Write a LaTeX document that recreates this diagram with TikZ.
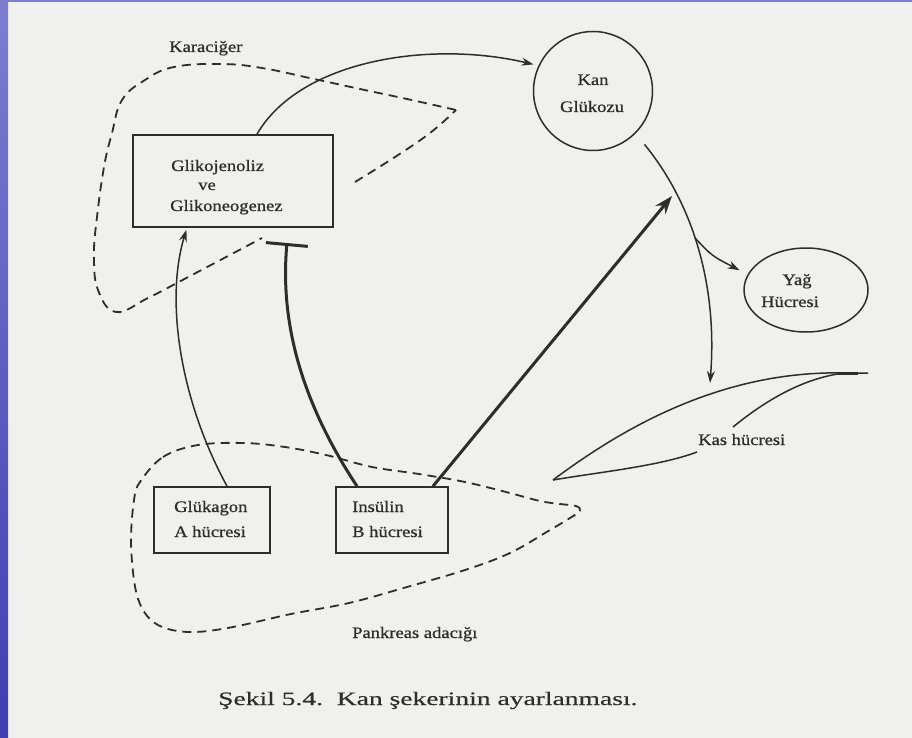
\documentclass[tikz,border=0pt]{standalone}
\usepackage{fontspec}
\setmainfont{Liberation Serif}
\newfontfamily\labfont[FakeStretch=1.16,FakeBold=0.8]{Liberation Serif}
\newfontfamily\capfont[FakeStretch=1.45,FakeBold=0.4]{Liberation Serif}
\usetikzlibrary{arrows.meta,shapes.geometric,calc}
\definecolor{page}{RGB}{240,240,238}
\definecolor{ink}{RGB}{45,45,45}
\definecolor{edgetop}{RGB}{125,125,208}
\definecolor{edgebot}{RGB}{62,62,178}
\begin{document}
\begin{tikzpicture}[x=1pt,y=-1pt,
  lbl/.style={font=\labfont\fontsize{16}{18}\selectfont, text=ink, inner sep=0pt},
  capt/.style={font=\capfont\fontsize{19}{21}\selectfont, text=ink, inner sep=0pt},
  box/.style={draw=ink, line width=1.7pt, rectangle, inner sep=0pt},
  thinline/.style={draw=ink, line width=1.5pt},
  thickline/.style={draw=ink, line width=3pt},
  dsh/.style={draw=ink, line width=1.8pt, dash pattern=on 9pt off 6pt},
  tipa/.style={-{Stealth[length=12pt,width=8pt]}},
  tipb/.style={-{Stealth[length=18pt,width=13pt]}},
  tbar/.style={-{Bar[width=42pt,line width=3pt]}},
]
\useasboundingbox (0,0) rectangle (912,738);
\fill[page] (0,0) rectangle (912,738);
\shade[top color=edgetop, bottom color=edgebot] (0,0) rectangle (8,738);
\fill[edgetop] (0,0) rectangle (912,2);

% nodes
\node[box, minimum width=200pt, minimum height=92pt] (lv) at (233,181) {};
\node[lbl, anchor=base west] (t1) at (171,171) {Glikojenoliz};
\node[lbl, anchor=base] (t2) at (207,190) {ve};
\node[lbl, anchor=base west] (t3) at (170,211) {Glikoneogenez};
\node[lbl, anchor=base west] (kar) at (169,52) {Karaciğer};

\node[circle, draw=ink, line width=1.5pt, minimum size=119pt, inner sep=0pt] (kg) at (593,91) {};
\node[lbl, anchor=base] (kg1) at (593,85) {Kan};
\node[lbl, anchor=base] (kg2) at (592,112) {Glükozu};

\node[ellipse, draw=ink, line width=1.5pt, minimum width=124pt, minimum height=84pt, inner sep=0pt] (yg) at (806,290) {};
\node[lbl, anchor=base] (yg1) at (797,285) {Yağ};
\node[lbl, anchor=base] (yg2) at (790,307) {Hücresi};

\node[box, minimum width=116pt, minimum height=66pt] (gk) at (212,520) {};
\node[lbl, anchor=base west] (gk1) at (174,512) {Glükagon};
\node[lbl, anchor=base west] (gk2) at (174,537) {A hücresi};

\node[box, minimum width=112pt, minimum height=66pt] (ins) at (392,520) {};
\node[lbl, anchor=base west] (in1) at (352,512) {Insülin};
\node[lbl, anchor=base west] (in2) at (352,537) {B hücresi};

\node[lbl, anchor=base west] (kh) at (698,445) {Kas hücresi};
\node[lbl, anchor=base west] (pa) at (352,638) {Pankreas adacığı};
\node[capt, anchor=base west] (cap) at (218,705) {Şekil 5.4.\ \ Kan şekerinin ayarlanması.};

% coordinates
\coordinate (br) at (695,238);
\coordinate (kasarr) at (710,383);
\coordinate (insarr) at (672,196);
\coordinate (tb) at (287,243);
\coordinate (kp) at (553,480);
\coordinate (kl) at (697,452);
\coordinate (ku) at (733,427);
\coordinate (ke) at (845,373);

% dashed liver outline
\draw[dsh] plot[smooth, tension=0.7] coordinates {(355,182) (395,157) (430,133) (456,110)};
\draw[dsh] plot[smooth, tension=0.7] coordinates {(456,110) (407,99) (360,89) (314,79) (262,68) (221,64) (174,67) (145,80) (122,100) (112,133) (104,167) (97,217) (94,255) (98,290) (116,312) (148,298) (192,275) (262,238)};

% dashed pancreas outline
\draw[dsh] plot[smooth cycle, tension=0.6] coordinates {(140,482) (163,457) (198,445) (244,443) (285,447) (326,455) (372,467) (419,474) (465,482) (506,492) (540,501) (560,504) (576,506) (580,511) (570,518) (550,530) (510,553) (465,570) (407,587) (349,603) (291,614) (233,627) (195,632) (168,629) (151,620) (140,604) (134,580) (131,540) (134,500)};

% liver -> blood glucose
\draw[thinline, tipa, shorten >=5pt] ([xshift=24pt]lv.north) .. controls (300,60) and (430,40) .. (kg.155);
% blood glucose -> muscle
\draw[thinline, tipa, shorten <=14pt] (kg.-45) .. controls (690,200) and (718,280) .. (kasarr);
% branch -> fat cell
\draw[thinline, tipa, shorten >=9pt] (br) .. controls (712,256) .. (yg.165);
% insulin -> blood glucose (uptake)
\draw[thickline, tipb] ([xshift=41pt]ins.north) -- (insarr);
% insulin inhibits liver
\draw[thickline, tbar] ([xshift=-35pt]ins.north) .. controls (300,400) and (280,320) .. (tb);
% glucagon -> liver
\draw[thinline, tipa, shorten >=2pt] ([xshift=15pt]gk.north) .. controls (180,400) and (165,300) .. ([xshift=-46pt]lv.south);

% muscle cell outline
\draw[thinline] (kp) .. controls (620,430) and (720,370) .. (ke) -- (868,373);
\draw[draw=ink, line width=3pt] (838,373) -- (858,373);
\draw[thinline] (kp) .. controls (600,472) and (660,466) .. (kl);
\draw[thinline] (ku) .. controls (760,405) and (800,378) .. (ke);
\end{tikzpicture}
\end{document}
